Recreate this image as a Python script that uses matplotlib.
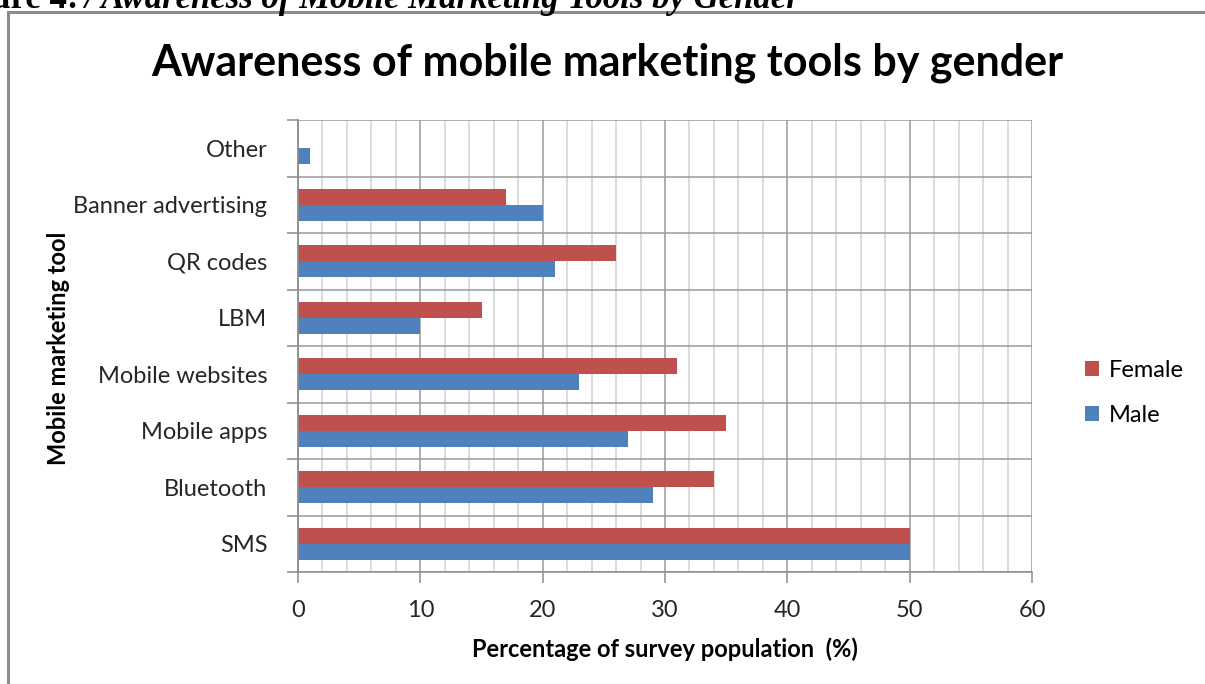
import matplotlib.pyplot as plt
import numpy as np
from matplotlib.patches import Rectangle
from matplotlib.ticker import MultipleLocator

plt.rcParams["font.family"] = ["Lato", "DejaVu Sans"]

tools = ["SMS", "Bluetooth", "Mobile apps", "Mobile websites", "LBM",
         "QR codes", "Banner advertising", "Other"]
male = [50, 29, 27, 23, 10, 21, 20, 1]
female = [50, 34, 35, 31, 15, 26, 17, 0]

RED = "#C0504D"
BLUE = "#4F81BD"

W, H = 1205, 684
fig = plt.figure(figsize=(W / 100, H / 100), dpi=100)

# outer chart frame, running off the right and bottom edges
fig.patches.append(Rectangle((8 / W, -0.1), 1.2, 1 - 12 / H + 0.1, transform=fig.transFigure,
                             fill=False, edgecolor="#8c8c8c", linewidth=2.2))

# document caption above the frame (its top runs off the page)
fig.text(78 / W, 1 - 8 / H, "Figure 4:", family="Liberation Serif", fontweight="bold",
         fontsize=25, va="baseline", ha="right")
fig.text(84 / W, 1 - 8 / H, "/ Awareness of Mobile Marketing Tools by Gender",
         family="Liberation Serif", fontweight="bold", fontstyle="italic",
         fontsize=25, va="baseline", ha="left")

ax = fig.add_axes([298 / W, 1 - 572 / H, (1032 - 298) / W, (572 - 120) / H])
pos = np.arange(len(tools))
h = 0.283
ax.barh(pos + h / 2, female, height=h, color=RED, label="Female", zorder=3)
ax.barh(pos - h / 2, male, height=h, color=BLUE, label="Male", zorder=3)

ax.set_xlim(0, 60)
ax.set_ylim(-0.5, len(tools) - 0.5)
ax.xaxis.set_major_locator(MultipleLocator(10))
ax.xaxis.set_minor_locator(MultipleLocator(2))
ax.set_yticks(pos)
ax.set_yticklabels(tools)
ax.set_yticks(np.arange(len(tools) + 1) - 0.5, minor=True)

ax.grid(which="minor", axis="x", color="#d2d2d2", linewidth=1.1, zorder=0)
ax.grid(which="major", axis="x", color="#9a9a9a", linewidth=1.1, zorder=0)
ax.grid(which="minor", axis="y", color="#9a9a9a", linewidth=1.1, zorder=0)

for side in ("top", "right"):
    ax.spines[side].set_visible(False)
ax.spines["left"].set_color("#8c8c8c")
ax.spines["bottom"].set_color("#8c8c8c")
ax.spines["left"].set_linewidth(1.3)
ax.spines["bottom"].set_linewidth(1.1)
ax.spines["left"].set_zorder(4)

ax.tick_params(axis="y", which="major", length=0, pad=22, labelsize=17, labelcolor="#262626")
ax.tick_params(axis="y", which="minor", length=8, color="#8c8c8c", width=1.1)
ax.tick_params(axis="x", which="major", length=8, color="#8c8c8c", width=1.1,
               pad=12, labelsize=17, labelcolor="#262626")
ax.tick_params(axis="x", which="minor", length=0)

ax.set_xlabel("Percentage of survey population  (%)", fontsize=17, fontweight="bold", labelpad=12)
fig.text(58 / W, 1 - 348 / H, "Mobile marketing tool", rotation=90, fontsize=17,
         fontweight="bold", ha="center", va="center")

fig.text(0.5 * (150 + 1065) / W, 1 - 63 / H, "Awareness of mobile marketing tools by gender",
         fontsize=31, fontweight="bold", ha="center", va="center")

handles, labels = ax.get_legend_handles_labels()
fig.legend(handles, labels, loc="center left", bbox_to_anchor=(1064 / W, 1 - 393 / H),
           frameon=False, fontsize=17, handlelength=0.6, handleheight=0.6,
           handletextpad=0.4, labelspacing=1.0)

fig.savefig("out.png", dpi=100)
